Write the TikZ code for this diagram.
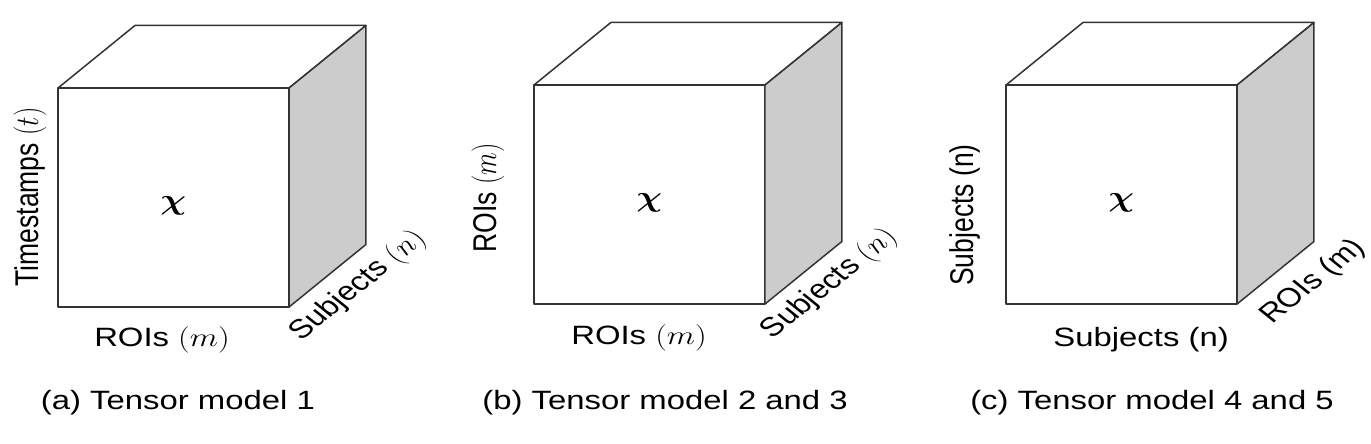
\RequirePackage{fix-cm}
\documentclass[tikz,border=0pt]{standalone}
\usepackage{amsmath,amssymb}
\usepackage{fontspec}
\setmainfont{Liberation Sans}
\usepackage{tikz}
\usepackage{xcolor}

\tikzset{
  face/.style={draw=black!80, line width=1.5pt, line join=round, fill=white},
  sideface/.style={face, fill=black!20},
  lbl/.style={font=\fontsize{26.5}{30}\selectfont, text=black, inner sep=0pt},
  tens/.style={font=\fontsize{29}{34}\selectfont, inner sep=0pt}
}

\begin{document}
\begin{tikzpicture}[x=1pt,y=-1pt,xscale=1.24,transform shape]
\useasboundingbox (0,0) rectangle (1105.6,443);
% the three tensor cubes
\foreach \cx/\cy/\nm in {46.8/88/a,430.6/85/b,811.3/85/c}{
  \draw[face] (\cx,\cy) rectangle ++(186.3,219);
  \draw[face] (\cx,\cy) -- ++(62,-62.5) -- ++(186.3,0) -- ++(-62,62.5) -- cycle;
  \draw[sideface] (\cx+186.3,\cy) -- ++(62,-62.5) -- ++(0,219) -- ++(-62,62.5) -- cycle;
  \node[tens] (x\nm) at (\cx+93,\cy+118) {$\boldsymbol{\chi}$};
}
% (a)
\node[lbl,rotate=90] (tsa) at (24.2,197) {Timestamps $(t)$};
\node[lbl] (roia) at (130.6,340) {ROIs $(m)$};
\node[lbl,rotate=45] (suba) at (289,286) {Subjects $(n)$};
\node[lbl] (capa) at (143.5,403) {(a) Tensor model 1};
% (b)
\node[lbl,rotate=90] (roilb) at (393.5,198) {ROIs $(m)$};
\node[lbl] (roib) at (515.3,338) {ROIs $(m)$};
\node[lbl,rotate=45] (subb) at (669,284) {Subjects $(n)$};
\node[lbl] (capb) at (536.3,403) {(b) Tensor model 2 and 3};
% (c)
\node[lbl,rotate=90] (sublc) at (778.2,215) {Subjects (n)};
\node[lbl] (subc) at (920.2,340) {Subjects (n)};
\node[lbl,rotate=45] (roic) at (1058.9,282) {ROIs (m)};
\node[lbl] (capc) at (929,403) {(c) Tensor model 4 and 5};
\end{tikzpicture}
\end{document}
